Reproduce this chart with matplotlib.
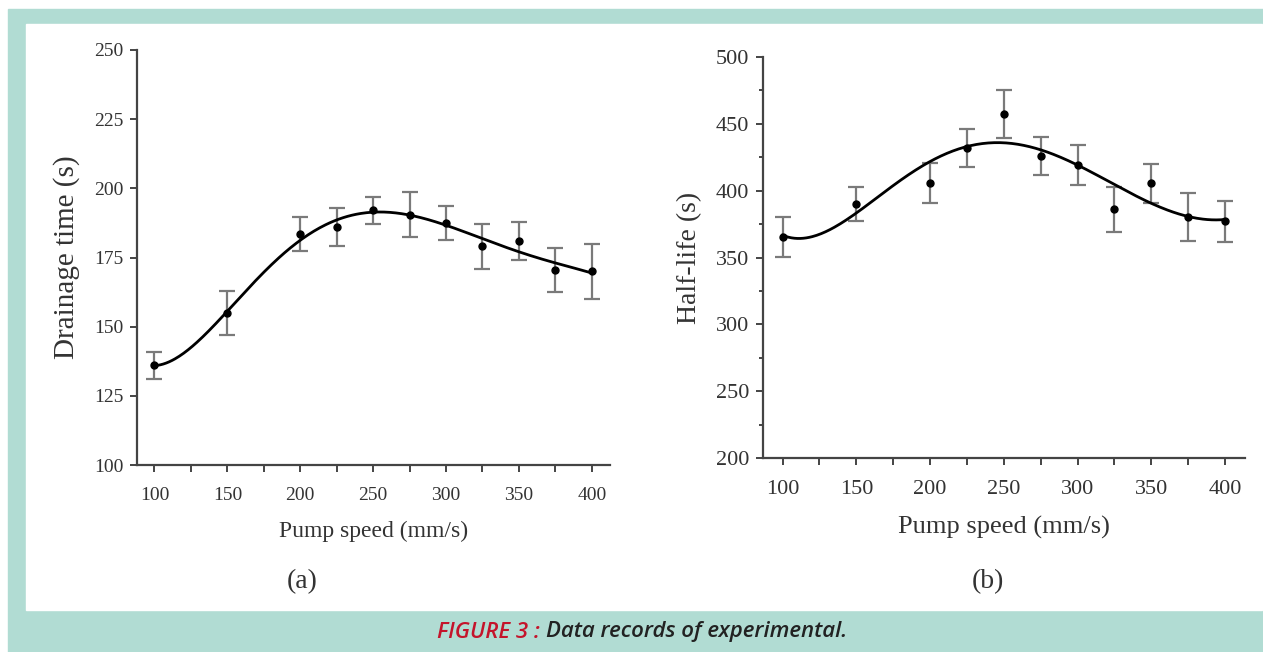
import numpy as np
import matplotlib.pyplot as plt
from matplotlib.patches import Rectangle
from matplotlib.ticker import MultipleLocator

# Pump speed (mm/s)
speed = [100, 150, 200, 225, 250, 275, 300, 325, 350, 375, 400]

# (a) drainage time (s) and error
drain = [136, 155, 183.5, 186, 192, 190.5, 187.5, 179, 181, 170.5, 170]
drain_err = [5, 8, 6, 7, 5, 8, 6, 8, 7, 8, 10]

# (b) half-life (s) and error
half = [365.5, 390, 406, 432, 457.5, 426, 419, 386, 405.5, 380, 377]
half_err = [15, 13, 15, 14.5, 18, 14.5, 15, 17, 14.5, 18, 15.5]

teal = '#b1dcd3'
W, H = 1263, 652


def px_box(x0, y0, x1, y1):
    # pixel box (top-left origin) -> figure fraction rect
    return [x0 / W, 1 - y1 / H, (x1 - x0) / W, (y1 - y0) / H]


def draw_panel(ax, y, err, ylabel, ylim, ymajor, yminor, fs_tick, fs_lab, fs_ylab):
    x = np.array(speed, dtype=float)
    coef = np.polyfit(x, y, 5)
    xs = np.linspace(100, 400, 300)
    ax.plot(xs, np.polyval(coef, xs), color='black', lw=2, zorder=3)
    ax.errorbar(x, y, yerr=err, fmt='none', ecolor='#7a7a7a', elinewidth=1.6,
                capsize=6, capthick=1.6, zorder=2)
    ax.plot(x, y, 'o', color='black', ms=5, zorder=4)

    ax.set_ylim(*ylim)
    ax.xaxis.set_major_locator(MultipleLocator(50))
    ax.xaxis.set_minor_locator(MultipleLocator(25))
    ax.yaxis.set_major_locator(MultipleLocator(ymajor))
    if yminor:
        ax.yaxis.set_minor_locator(MultipleLocator(yminor))
    for side in ['top', 'right']:
        ax.spines[side].set_visible(False)
    for side in ['left', 'bottom']:
        ax.spines[side].set_color('#444444')
        ax.spines[side].set_linewidth(1.6)
    ax.tick_params(which='both', direction='out', color='#444444', width=1.4,
                   labelsize=fs_tick, labelcolor='#333333')
    ax.tick_params(which='major', length=5)
    ax.tick_params(axis='x', which='major', pad=11)
    ax.tick_params(axis='y', which='major', pad=5)
    ax.tick_params(axis='x', which='minor', length=5)
    ax.tick_params(axis='y', which='minor', length=3)
    ax.set_xlabel('Pump speed (mm/s)', fontsize=fs_lab, color='#333333', labelpad=12)
    ax.set_ylabel(ylabel, fontsize=fs_ylab, color='#333333', labelpad=10)


plt.rcParams['font.family'] = ['Liberation Serif', 'DejaVu Serif']

fig = plt.figure(figsize=(W / 100, H / 100), dpi=100)
fig.patches.append(Rectangle((8 / W, 0), 1 - 8 / W, 1 - 9 / H,
                             transform=fig.transFigure, color=teal, zorder=-2))
fig.patches.append(Rectangle((26 / W, 1 - 610 / H), (1262 - 26) / W, (610 - 24) / H,
                             transform=fig.transFigure, color='white', zorder=-1))

ax1 = fig.add_axes(px_box(137, 50, 610, 465))
ax1.patch.set_alpha(0)
draw_panel(ax1, drain, drain_err, 'Drainage time (s)', (100, 250), 25, None, 14, 17, 21)
ax1.set_xlim(88, 412.5)

ax2 = fig.add_axes(px_box(763, 57, 1245, 458))
ax2.patch.set_alpha(0)
draw_panel(ax2, half, half_err, 'Half-life (s)', (200, 500), 50, 25, 16, 19, 20)
ax2.set_xlim(86.7, 413.5)

fig.text(302 / W, 1 - 582 / H, '(a)', fontsize=20, color='#333333', ha='center', va='center')
fig.text(988 / W, 1 - 582 / H, '(b)', fontsize=20, color='#333333', ha='center', va='center')

cap = dict(fontsize=16, style='italic', weight='semibold', family='Open Sans', va='center')
t1 = fig.text(437 / W, 1 - 632 / H, 'FIGURE 3 : ', color='#c4142b', **cap)
fig.canvas.draw()
bb = t1.get_window_extent()
fig.text(bb.x1 / W, 1 - 632 / H, 'Data records of experimental.', color='#222222', **cap)

fig.savefig('out.png', dpi=100)
